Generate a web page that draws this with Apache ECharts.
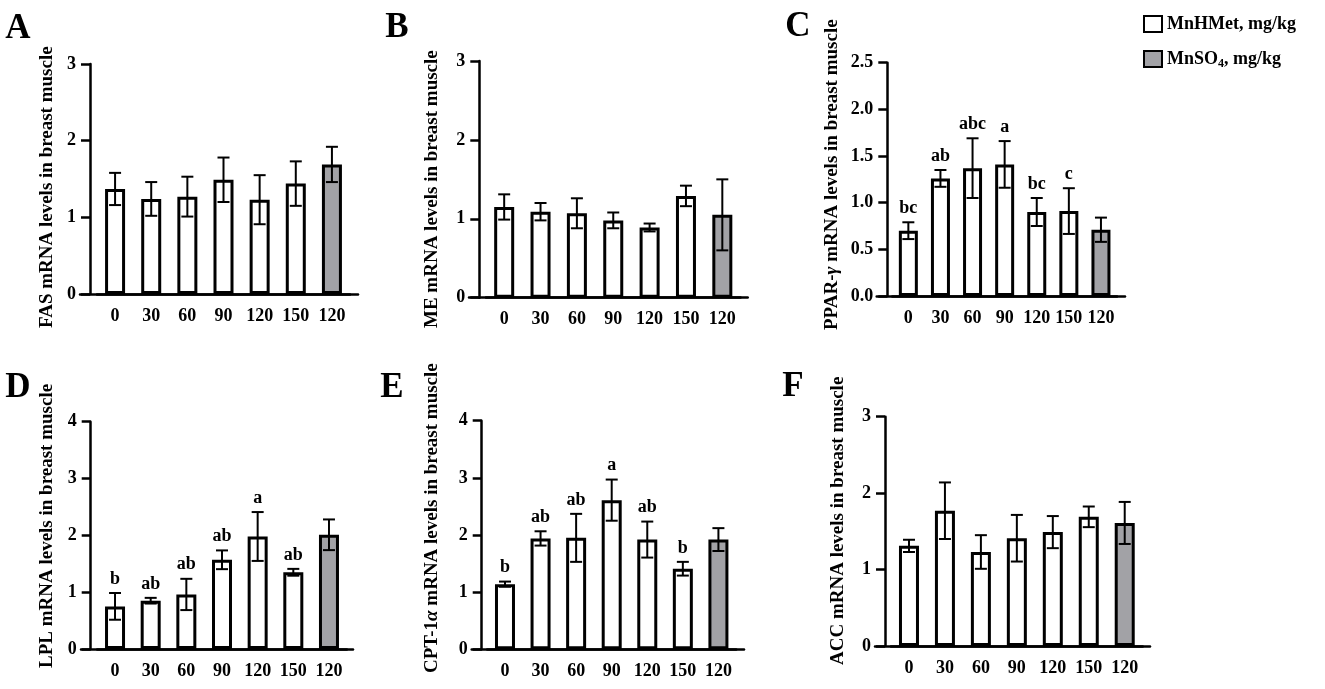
<!DOCTYPE html>
<html lang="en">
<head>
<meta charset="UTF-8">
<title>mRNA levels in breast muscle</title>
<script src="https://cdn.jsdelivr.net/npm/echarts@6/dist/echarts.min.js"></script>
<style>html,body{margin:0;padding:0;background:#fff;}</style>
</head>
<body>
<div id="main" style="width:1325px;height:689px;"></div>
<script type="text/javascript">
// dose groups on the x axis (last one is MnSO4)
var doses = ['0', '30', '60', '90', '120', '150', '120'];

// A - FAS
var fasMean = [1.37, 1.24, 1.27, 1.49, 1.23, 1.44, 1.69];
var fasSd = [0.21, 0.22, 0.26, 0.29, 0.32, 0.29, 0.23];
// B - ME
var meMean = [1.15, 1.09, 1.07, 0.98, 0.89, 1.29, 1.05];
var meSd = [0.16, 0.11, 0.19, 0.10, 0.05, 0.13, 0.45];
// C - PPAR-gamma
var pparMean = [0.70, 1.26, 1.37, 1.41, 0.90, 0.91, 0.71];
var pparSd = [0.09, 0.09, 0.32, 0.25, 0.15, 0.245, 0.13];
var pparLetters = ['bc', 'ab', 'abc', 'a', 'bc', 'c', ''];
// D - LPL
var lplMean = [0.75, 0.85, 0.96, 1.57, 1.98, 1.35, 2.01];
var lplSd = [0.235, 0.05, 0.275, 0.165, 0.43, 0.06, 0.27];
var lplLetters = ['b', 'ab', 'ab', 'ab', 'a', 'ab', ''];
// E - CPT-1alpha
var cptMean = [1.14, 1.94, 1.95, 2.61, 1.92, 1.41, 1.92];
var cptSd = [0.045, 0.125, 0.42, 0.36, 0.315, 0.12, 0.2];
var cptLetters = ['b', 'ab', 'ab', 'a', 'ab', 'b', ''];
// F - ACC
var accMean = [1.31, 1.77, 1.23, 1.41, 1.49, 1.69, 1.61];
var accSd = [0.08, 0.37, 0.22, 0.305, 0.21, 0.135, 0.275];

var FONT = '"Times New Roman", "Liberation Serif", serif';
var NAME_MN = 'MnHMet, mg/kg';
var NAME_SO4 = 'MnSO4, mg/kg';

// layout of each panel (pixels)
var panels = [
    {tag: 'A', mean: fasMean, sd: fasSd, letters: null, max: 3, step: 1, digits: 0,
        left: 97, width: 253, top: 64, bottom: 294, axisX: 90, lineL: 80, lineR: 358,
        title: 'FAS mRNA levels in breast muscle', tx: 47, ty: 328, lx: 18, ly: 29, barW: 20},
    {tag: 'B', mean: meMean, sd: meSd, letters: null, max: 3, step: 1, digits: 0,
        left: 486, width: 254.5, top: 61, bottom: 297.7, axisX: 479.3, lineL: 469, lineR: 747.7,
        title: 'ME mRNA levels in breast muscle', tx: 432, ty: 328, lx: 397, ly: 28, barW: 20},
    {tag: 'C', mean: pparMean, sd: pparSd, letters: pparLetters, max: 2.5, step: 0.5, digits: 1,
        left: 892.3, width: 224.7, top: 62.7, bottom: 296, axisX: 887.3, lineL: 876.7, lineR: 1125,
        title: 'PPAR-{i|γ} mRNA levels in breast muscle', tx: 832, ty: 330, lx: 798, ly: 27, barW: 19},
    {tag: 'D', mean: lplMean, sd: lplSd, letters: lplLetters, max: 4, step: 1, digits: 0,
        left: 97.2, width: 249.6, top: 421.7, bottom: 649, axisX: 90.7, lineL: 81, lineR: 353,
        title: 'LPL mRNA levels in breast muscle', tx: 47, ty: 668, lx: 18, ly: 388, barW: 20},
    {tag: 'E', mean: cptMean, sd: cptSd, letters: cptLetters, max: 4, step: 1, digits: 0,
        left: 487.2, width: 249, top: 420.7, bottom: 649.3, axisX: 481.7, lineL: 471.7, lineR: 744,
        title: 'CPT-1{i|α} mRNA levels in breast muscle', tx: 432, ty: 673, lx: 392, ly: 388, barW: 20},
    {tag: 'F', mean: accMean, sd: accSd, letters: null, max: 3, step: 1, digits: 0,
        left: 891, width: 251.7, top: 416.7, bottom: 646, axisX: 885, lineL: 875, lineR: 1150,
        title: 'ACC mRNA levels in breast muscle', tx: 838, ty: 665, lx: 793, ly: 387, barW: 20}
];

var axisLineStyle = {color: '#000', width: 2.5};
var labelStyle = {color: '#000', fontSize: 18, fontWeight: 'bold', fontFamily: FONT};

var grid = [], xAxis = [], yAxis = [], series = [], graphic = [];
var n = panels.length;

panels.forEach(function (p, k) {
    // grid holding the bars
    grid.push({left: p.left, top: p.top, width: p.width, height: p.bottom - p.top});
    xAxis.push({
        type: 'category', gridIndex: k, data: doses,
        axisLine: {lineStyle: axisLineStyle},
        axisTick: {alignWithLabel: true, length: 9, lineStyle: axisLineStyle},
        axisLabel: Object.assign({margin: 13, interval: 0}, labelStyle)
    });
    yAxis.push({
        type: 'value', gridIndex: k, min: 0, max: p.max, interval: p.step,
        offset: p.left - p.axisX,
        axisLine: {show: true, lineStyle: axisLineStyle},
        axisTick: {show: true, length: 9, lineStyle: axisLineStyle},
        splitLine: {show: false},
        axisLabel: Object.assign({
            margin: 14,
            formatter: (function (d) { return function (v) { return v.toFixed(d); }; })(p.digits)
        }, labelStyle)
    });

    // bars: MnHMet groups and the MnSO4 group share positions
    series.push({
        name: NAME_MN, type: 'bar', xAxisIndex: k, yAxisIndex: k,
        barWidth: p.barW, barGap: '-100%',
        itemStyle: {color: '#fff', borderColor: '#000', borderWidth: 3},
        data: p.mean.map(function (v, i) { return i < 6 ? v : '-'; })
    });
    series.push({
        name: NAME_SO4, type: 'bar', xAxisIndex: k, yAxisIndex: k,
        barWidth: p.barW, barGap: '-100%',
        itemStyle: {color: '#a2a2a6', borderColor: '#000', borderWidth: 3},
        data: p.mean.map(function (v, i) { return i === 6 ? v : '-'; })
    });

    // error bars + significance letters
    var letters = p.letters;
    series.push({
        type: 'custom', xAxisIndex: k, yAxisIndex: k, z: 5, silent: true,
        encode: {x: 0, y: 1},
        data: p.mean.map(function (m, i) { return [i, m, p.sd[i]]; }),
        renderItem: function (params, api) {
            var i = api.value(0), m = api.value(1), s = api.value(2);
            var hi = api.coord([i, m + s]);
            var lo = api.coord([i, m - s]);
            var cap = 6;
            var st = {stroke: '#000', lineWidth: 2};
            var kids = [
                {type: 'line', shape: {x1: hi[0], y1: hi[1], x2: lo[0], y2: lo[1]}, style: st},
                {type: 'line', shape: {x1: hi[0] - cap, y1: hi[1], x2: hi[0] + cap, y2: hi[1]}, style: st},
                {type: 'line', shape: {x1: lo[0] - cap, y1: lo[1], x2: lo[0] + cap, y2: lo[1]}, style: st}
            ];
            if (letters && letters[params.dataIndex]) {
                kids.push({
                    type: 'text', x: hi[0], y: hi[1] - 14,
                    style: {text: letters[params.dataIndex], textAlign: 'center', textVerticalAlign: 'middle',
                        fontSize: 18, fontWeight: 'bold', fontFamily: FONT, fill: '#000'}
                });
            }
            return {type: 'group', children: kids};
        }
    });

    // panel letter and rotated y title
    graphic.push({
        type: 'text', x: p.lx, y: p.ly,
        style: {text: p.tag, textAlign: 'center', textVerticalAlign: 'middle',
            fontSize: 35, fontWeight: 'bold', fontFamily: FONT, fill: '#000'}
    });
    graphic.push({
        type: 'text', x: p.tx, y: p.ty, rotation: Math.PI / 2,
        style: {text: p.title, textAlign: 'left', textVerticalAlign: 'middle',
            fontSize: 19, fontWeight: 'bold', fontFamily: FONT, fill: '#000',
            rich: {i: {fontSize: 19, fontWeight: 'bold', fontStyle: 'italic', fontFamily: FONT}}}
    });
});

// second grid per panel: only the longer x axis line
panels.forEach(function (p, k) {
    grid.push({left: p.lineL, top: p.top, width: p.lineR - p.lineL, height: p.bottom - p.top});
    xAxis.push({
        type: 'value', gridIndex: n + k, min: 0, max: 1,
        axisLine: {show: true, lineStyle: axisLineStyle},
        axisTick: {show: false}, axisLabel: {show: false}, splitLine: {show: false}
    });
    yAxis.push({type: 'value', gridIndex: n + k, min: 0, max: 1, show: false});
});

var myChart = echarts.init(document.getElementById('main'));
myChart.setOption({
    animation: false,
    backgroundColor: '#fff',
    legend: {
        orient: 'vertical', left: 1138, top: 10,
        itemWidth: 18, itemHeight: 16, itemGap: 17,
        icon: 'rect',
        data: [NAME_MN, NAME_SO4],
        selectedMode: false,
        formatter: function (name) {
            return name === NAME_SO4 ? 'MnSO{sub|4}, mg/kg' : name;
        },
        textStyle: {
            color: '#000', fontSize: 18, fontWeight: 'bold', fontFamily: FONT,
            rich: {sub: {fontSize: 12, fontWeight: 'bold', fontFamily: FONT, verticalAlign: 'bottom', padding: [9, 0, 0, 0]}}
        }
    },
    grid: grid,
    xAxis: xAxis,
    yAxis: yAxis,
    series: series,
    graphic: graphic
});
</script>
</body>
</html>
